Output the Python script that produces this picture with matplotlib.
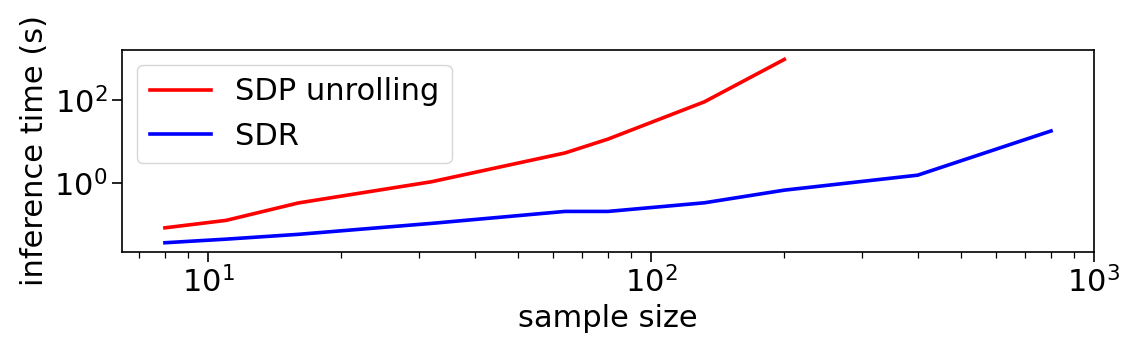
import matplotlib
matplotlib.use("Agg")
import matplotlib.pyplot as plt

sample_sizes_sdp = [8, 11, 16, 32, 64, 80, 132, 200]
time_sdp = [0.086, 0.13, 0.34, 1.1, 5.4, 11.6, 91, 950]

sample_sizes_sdr = [8, 11, 16, 32, 64, 80, 132, 200, 400, 800]
time_sdr = [0.0377, 0.046, 0.06, 0.11, 0.213, 0.213, 0.343, 0.69, 1.58, 18.2]

fig = plt.figure(figsize=(11.36, 3.52), dpi=100)
ax = fig.add_axes([0.1074, 0.285, 0.8556, 0.573])
ax.plot(sample_sizes_sdp, time_sdp, color="red", lw=2.6, label="SDP unrolling")
ax.plot(sample_sizes_sdr, time_sdr, color="blue", lw=2.6, label="SDR")
ax.set_xscale("log")
ax.set_yscale("log")
ax.set_xlim(6.4, 1000)
ax.set_ylim(0.023, 1600)
ax.set_xlabel("sample size", fontsize=22)
ax.set_ylabel("inference time (s)", fontsize=22)
ax.tick_params(axis="both", which="major", labelsize=22, length=7, width=1.2)
ax.tick_params(axis="both", which="minor", length=4, width=0.9)
for s in ax.spines.values():
    s.set_linewidth(1.2)
ax.legend(loc="upper left", fontsize=22)
fig.savefig("out.png", dpi=100)
